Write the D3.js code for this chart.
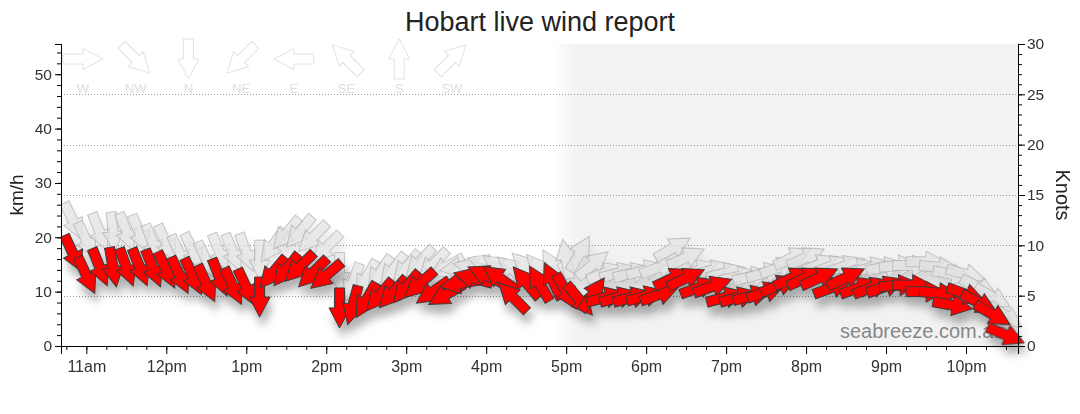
<!DOCTYPE html>
<html>
<head>
<meta charset="utf-8">
<script src="https://cdn.jsdelivr.net/npm/d3@7"></script>
<style>
  body { margin: 0; background: #fff; }
  svg { display: block; font-family: "Liberation Sans", Arial, sans-serif; }
</style>
</head>
<body>
<div id="chart"></div>
<script>
// 10-minute observations
const times = [
  '10:50', '11:00', '11:10', '11:20', '11:30', '11:40', '11:50', '12:00', '12:10', '12:20', '12:30', '12:40', '12:50',
  '13:00', '13:10', '13:20', '13:30', '13:40', '13:50', '14:00', '14:10', '14:20', '14:30', '14:40', '14:50',
  '15:00', '15:10', '15:20', '15:30', '15:40', '15:50', '16:00', '16:10', '16:20', '16:30', '16:40', '16:50',
  '17:00', '17:10', '17:20', '17:30', '17:40', '17:50', '18:00', '18:10', '18:20', '18:30', '18:40', '18:50',
  '19:00', '19:10', '19:20', '19:30', '19:40', '19:50', '20:00', '20:10', '20:20', '20:30', '20:40', '20:50',
  '21:00', '21:10', '21:20', '21:30', '21:40', '21:50', '22:00', '22:10', '22:20', '22:30'
];
// average wind (km/h) and direction it comes from (deg)
const avgKmh = [
  17, 13, 14.5, 14.5, 14.5, 14.5, 14.3, 14, 13, 12.8, 11.5, 12.6, 11, 10.8,
  9, 13.5, 14, 14.5, 13.5, 13,
  7, 7.5, 8.4, 9.3, 9.8, 10.8, 11.4, 10, 9.5,
  11.5, 12.5, 13, 12.5, 9, 11.7, 11.5, 12,
  10, 8.5, 9.5,
  9, 9, 9, 9.2, 9.5, 12.5, 12.5, 10.8, 11, 9, 9, 9.3, 10, 11.2, 12.6, 12.6, 12.6, 10.8, 12.6, 10.8, 10.8, 11,
  11.2, 11.2, 10, 9.7, 7.5, 9.5, 7.9, 5.8, 2
];
const avgDir = [
  335, 335, 338, 350, 340, 338, 338, 335, 335, 335, 335, 338, 335, 335,
  0, 40, 38, 45, 45, 50,
  0, 15, 30, 40, 42, 40, 48, 55, 60,
  80, 105, 115, 125, 135, 140, 150, 155,
  330, 320, 215,
  255, 255, 255, 255, 250, 245, 245, 250, 250, 255, 255, 255, 250, 248, 245, 245, 245, 250, 245, 250, 250, 250,
  265, 270, 270, 275, 280, 290, 298, 300, 293
];
// gusts (km/h) and direction
const gustKmh = [
  23, 19.4, 21, 21, 21, 20.7, 18.9, 18.9, 17, 17.4, 15.8, 17.2, 17.2, 17.2,
  15.8, 18.5, 20.7, 21, 20, 18.1,
  13.5, 11.7, 12.5, 13.5, 14, 14.5, 15.4, 15,
  14.5, 14.5, 14.5, 15, 14.5, 14, 14.5, 14, 14.5,
  16, 17, 15,
  13.5, 13.5, 13.5, 14, 14.5, 18, 16.3, 14, 14, 13.5, 12.8, 12.8, 13.5, 14.5, 16.3, 16.3, 15, 14.8, 14.8, 14.2, 14.5, 14.5,
  14.8, 14.8, 15.5, 14.5, 13.2, 13.2, 10.8, 9, 5.5
];
const gustDir = [
  335, 335, 338, 355, 340, 338, 338, 335, 335, 335, 335, 338, 338, 340,
  0, 35, 40, 40, 45, 45,
  0, 20, 30, 35, 38, 40, 42, 45,
  60, 80, 100, 110, 125, 130, 135, 140, 150,
  170, 210, 230,
  250, 255, 255, 255, 250, 240, 245, 250, 255, 255, 258, 258, 255, 250, 245, 245, 248, 250, 250, 252, 255, 260,
  265, 270, 270, 275, 280, 285, 295, 300, 305
];
const hourTicks = ['11:00', '12:00', '13:00', '14:00', '15:00', '16:00', '17:00', '18:00', '19:00', '20:00', '21:00', '22:00'];
const hourLabels = ['11am', '12pm', '1pm', '2pm', '3pm', '4pm', '5pm', '6pm', '7pm', '8pm', '9pm', '10pm'];
const compassLabels = ['W', 'NW', 'N', 'NE', 'E', 'SE', 'S', 'SW'];
const compassDirs = [270, 315, 0, 45, 90, 135, 180, 225];
const knotGrid = [5, 10, 15, 20, 25];
const timeStart = '10:41';
const timeEnd = '22:39';
const nightStart = '16:53';
const KMH_PER_KNOT = 1.852;

// svg
const svgWidth = 1080;
const svgHeight = 414;
const margin = { top: 44, right: 62, bottom: 68, left: 61 };
const plotW = svgWidth - margin.left - margin.right;
const plotH = svgHeight - margin.top - margin.bottom;

const parse = d3.timeParse('%H:%M');

const svg = d3.select('#chart')
  .append('svg')
  .attr('width', svgWidth)
  .attr('height', svgHeight);

const defs = svg.append('defs');
const shadow = defs.append('filter').attr('id', 'shadow')
  .attr('x', '-50%').attr('y', '-50%').attr('width', '200%').attr('height', '200%');
shadow.append('feDropShadow')
  .attr('dx', 3).attr('dy', 9).attr('stdDeviation', 4.5)
  .attr('flood-color', '#000').attr('flood-opacity', 0.3);
const shadowLight = defs.append('filter').attr('id', 'shadowLight')
  .attr('x', '-50%').attr('y', '-50%').attr('width', '200%').attr('height', '200%');
shadowLight.append('feDropShadow')
  .attr('dx', 3).attr('dy', 9).attr('stdDeviation', 4.5)
  .attr('flood-color', '#000').attr('flood-opacity', 0.13);
const fade = defs.append('linearGradient').attr('id', 'fade');
fade.append('stop').attr('offset', '0%').attr('stop-color', '#f2f2f2').attr('stop-opacity', 0);
fade.append('stop').attr('offset', '100%').attr('stop-color', '#f2f2f2').attr('stop-opacity', 1);
defs.append('clipPath').attr('id', 'plotClip')
  .append('rect')
  .attr('x', margin.left).attr('y', 0)
  .attr('width', plotW + 30).attr('height', svgHeight);

// scales
const x = d3.scaleTime()
  .domain([parse(timeStart), parse(timeEnd)])
  .range([margin.left, margin.left + plotW]);
const yKmh = d3.scaleLinear()
  .domain([0, 30 * KMH_PER_KNOT])
  .range([margin.top + plotH, margin.top]);
const yKn = d3.scaleLinear()
  .domain([0, 30])
  .range([margin.top + plotH, margin.top]);

// night shading
const nx = x(parse(nightStart));
svg.append('rect')
  .attr('x', nx - 4).attr('y', margin.top)
  .attr('width', 24).attr('height', plotH)
  .attr('fill', 'url(#fade)');
svg.append('rect')
  .attr('x', nx + 20).attr('y', margin.top)
  .attr('width', margin.left + plotW - nx - 20).attr('height', plotH)
  .attr('fill', '#f2f2f2');

// grid (knots)
svg.append('g')
  .selectAll('line')
  .data(knotGrid)
  .join('line')
  .attr('x1', margin.left).attr('x2', margin.left + plotW)
  .attr('y1', d => Math.round(yKn(d)) + 0.5).attr('y2', d => Math.round(yKn(d)) + 0.5)
  .attr('stroke', '#999')
  .attr('stroke-dasharray', '1,2');

// watermark
svg.append('text')
  .attr('x', 840).attr('y', 338)
  .attr('font-size', 20)
  .attr('fill', '#888')
  .text('seabreeze.com.au');

// compass legend
const arrowPath = 'M0,-20L10.5,0L5,0L5,20L-5,20L-5,0L-10.5,0Z';
const legend = svg.append('g')
  .selectAll('g')
  .data(compassLabels)
  .join('g')
  .attr('transform', (d, i) => `translate(${83 + i * 52.7},0)`);
legend.append('path')
  .attr('d', arrowPath)
  .attr('transform', (d, i) => `translate(0,59) rotate(${compassDirs[i] + 180})`)
  .attr('fill', '#fff')
  .attr('stroke', '#e2e2e2');
legend.append('text')
  .attr('y', 93)
  .attr('text-anchor', 'middle')
  .attr('font-size', 13)
  .attr('fill', '#e0e0e0')
  .text(d => d);

// arrows
function drawArrows(speeds, dirs, fill, stroke, filter) {
  svg.append('g')
    .attr('clip-path', 'url(#plotClip)')
    .append('g')
    .attr('filter', filter)
    .selectAll('path')
    .data(times)
    .join('path')
    .attr('d', arrowPath)
    .attr('transform', (d, i) => `translate(${x(parse(d))},${yKmh(speeds[i])}) rotate(${dirs[i] + 180})`)
    .attr('fill', fill)
    .attr('stroke', stroke)
    .attr('stroke-width', 1);
}
drawArrows(gustKmh, gustDir, 'rgba(226,226,226,0.72)', 'rgba(165,165,165,0.6)', 'url(#shadowLight)');
drawArrows(avgKmh, avgDir, '#ff0000', '#3a3a3a', 'url(#shadow)');

// axes
const axisY = margin.top + plotH;
const xAxis = svg.append('g').attr('transform', `translate(0,${axisY})`);
xAxis.call(d3.axisBottom(x)
  .tickValues(x.ticks(d3.timeMinute.every(15)))
  .tickSize(4).tickFormat(''));
xAxis.append('g').attr('class', 'xmajor').call(d3.axisBottom(x)
  .tickValues(hourTicks.map(parse))
  .tickSize(8).tickPadding(7)
  .tickFormat((d, i) => hourLabels[i]));

const leftAxis = svg.append('g').attr('transform', `translate(${margin.left},0)`);
leftAxis.call(d3.axisLeft(yKmh).tickValues(d3.range(0, 56, 2)).tickSize(4).tickFormat(''));
leftAxis.append('g').call(d3.axisLeft(yKmh).tickValues(d3.range(0, 51, 10)).tickSize(6).tickPadding(3));

const rightAxis = svg.append('g').attr('transform', `translate(${margin.left + plotW},0)`);
rightAxis.call(d3.axisRight(yKn).tickValues(d3.range(0, 31, 1)).tickSize(4).tickFormat(''));
rightAxis.append('g').call(d3.axisRight(yKn).tickValues(d3.range(0, 31, 5)).tickSize(7).tickPadding(2));

svg.selectAll('.tick text').attr('font-size', 15.5).attr('fill', '#333').attr('font-family', null);
svg.selectAll('.xmajor .tick text').attr('font-size', 16);
svg.selectAll('.domain').attr('stroke', '#000');
svg.selectAll('.tick line').attr('stroke', '#000');

// labels
svg.append('text')
  .attr('x', svgWidth / 2).attr('y', 31)
  .attr('text-anchor', 'middle')
  .attr('font-size', 27)
  .attr('fill', '#222')
  .text('Hobart live wind report');
svg.append('text')
  .attr('transform', `translate(23,${margin.top + plotH / 2}) rotate(-90)`)
  .attr('text-anchor', 'middle')
  .attr('font-size', 19)
  .attr('fill', '#222')
  .text('km/h');
svg.append('text')
  .attr('transform', `translate(1056,${margin.top + plotH / 2}) rotate(90)`)
  .attr('text-anchor', 'middle')
  .attr('font-size', 20)
  .attr('fill', '#222')
  .text('Knots');
</script>
</body>
</html>
